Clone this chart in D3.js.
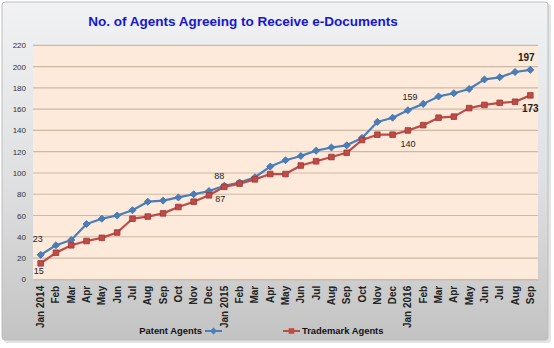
<!DOCTYPE html>
<html>
<head>
<meta charset="utf-8">
<script src="https://cdn.jsdelivr.net/npm/d3@7/dist/d3.min.js"></script>
<style>
  html, body { margin: 0; padding: 0; background: #ffffff; }
  svg { display: block; font-family: "Liberation Sans", Arial, sans-serif; }
</style>
</head>
<body>
<svg id="chart" width="554" height="348"></svg>
<script>
// Monthly categories, Jan 2014 – Sep 2016
const months = ["Jan 2014","Feb","Mar","Apr","May","Jun","Jul","Aug","Sep","Oct","Nov","Dec",
                "Jan 2015","Feb","Mar","Apr","May","Jun","Jul","Aug","Sep","Oct","Nov","Dec",
                "Jan 2016","Feb","Mar","Apr","May","Jun","Jul","Aug","Sep"];
const patentAgents = [23,32,37,52,57,60,65,73,74,77,80,83,
                      88,91,96,106,112,116,121,124,126,133,148,152,
                      159,165,172,175,179,188,190,195,197];
const trademarkAgents = [15,25,32,36,39,44,57,59,62,68,73,79,
                         87,90,94,99,99,107,111,115,119,131,136,136,
                         140,145,152,153,161,164,166,167,173];
const yTicks = [0,20,40,60,80,100,120,140,160,180,200,220];
const seriesNames = ["Patent Agents","Trademark Agents"];
// Points that carry a value label: [series index, month index]
const labelledPoints = [[0,0],[1,0],[0,12],[1,12],[0,24],[1,24],[0,32],[1,32]];

const svg = d3.select("#chart");
const keys = months.map((m, i) => i);   // unique band keys for repeated month names

const x = d3.scaleBand().domain(keys).range([33, 538]).padding(0);
const y = d3.scaleLinear().domain([0, 220]).range([279.3, 45.4]);
const cx = i => x(i) + x.bandwidth() / 2;

// Chart area background
const defs = svg.append("defs");
const bg = defs.append("linearGradient").attr("id", "bg").attr("x1", 0).attr("y1", 0).attr("x2", 0).attr("y2", 1);
bg.append("stop").attr("offset", "0%").attr("stop-color", "#f0f2f4");
bg.append("stop").attr("offset", "55%").attr("stop-color", "#dedfe0");
bg.append("stop").attr("offset", "100%").attr("stop-color", "#c3c3c3");

svg.append("rect").attr("x", 4).attr("y", 4).attr("width", 547).attr("height", 339)
  .attr("rx", 3).attr("fill", "#e4e4e4");
svg.append("rect").attr("x", 2).attr("y", 2).attr("width", 546).attr("height", 338)
  .attr("rx", 3).attr("fill", "url(#bg)").attr("stroke", "#bdbdbd").attr("stroke-width", 1);

// Plot area
svg.append("rect").attr("x", x.range()[0]).attr("y", y(220))
  .attr("width", x.range()[1] - x.range()[0]).attr("height", y(0) - y(220))
  .attr("fill", "#fdeadb");

// Gridlines
svg.append("g").selectAll("line").data(yTicks.slice(1)).join("line")
  .attr("x1", x.range()[0]).attr("x2", x.range()[1])
  .attr("y1", d => y(d)).attr("y2", d => y(d))
  .attr("stroke", "#cbb8a5").attr("stroke-width", 1.2);

// Y axis labels
svg.append("g").selectAll("text").data(yTicks).join("text")
  .attr("x", 26).attr("y", d => y(d) + 3)
  .attr("text-anchor", "end").attr("font-size", 8).attr("fill", "#333")
  .text(d => d);

// X axis
const xAxis = d3.axisBottom(x).tickSize(0).tickFormat(i => months[i]);
const gx = svg.append("g").attr("transform", `translate(0,${y(0)})`).call(xAxis);
gx.select(".domain").attr("stroke", "#bfb2a6");
gx.selectAll("text")
  .attr("transform", "rotate(-90)")
  .attr("text-anchor", "end")
  .attr("x", -6.5).attr("y", 0).attr("dy", "0.35em")
  .attr("font-size", 10).attr("font-weight", "bold").attr("fill", "#222")
  .attr("font-family", "\"Liberation Sans\", Arial, sans-serif");

// Series
const colors = ["#4a7ebb", "#be4b48"];
const strokes = ["#3c6ea8", "#9e3734"];
const data = [patentAgents, trademarkAgents];
const line = d3.line().x((d, i) => cx(i)).y(d => y(d));
const diamond = d3.symbol().type(d3.symbolDiamond2).size(32);
const square = d3.symbol().type(d3.symbolSquare2).size(40);

data.forEach((vals, s) => {
  svg.append("path").datum(vals).attr("d", line)
    .attr("fill", "none").attr("stroke", colors[s]).attr("stroke-width", 2.2)
    .attr("stroke-linejoin", "round");
  svg.append("g").selectAll("path").data(vals).join("path")
    .attr("transform", (d, i) => `translate(${cx(i)},${y(d)})`)
    .attr("d", s === 0 ? diamond : square)
    .attr("fill", colors[s]).attr("stroke", strokes[s]).attr("stroke-width", 0.8);
});

// Value labels, each nudged clear of its marker
const labelOffset = {
  "0-0": [-3, -13], "1-0": [-2, 11],
  "0-12": [-5, -6.5], "1-12": [-4, 15.5],
  "0-24": [2, -10], "1-24": [0, 17],
  "0-32": [-4, -8.5], "1-32": [0, 17]
};
svg.append("g").selectAll("text").data(labelledPoints).join("text")
  .attr("x", ([s, i]) => cx(i) + labelOffset[s + "-" + i][0])
  .attr("y", ([s, i]) => y(data[s][i]) + labelOffset[s + "-" + i][1])
  .attr("text-anchor", "middle")
  .attr("font-size", ([s, i]) => i === 32 ? 10 : 9)
  .attr("font-weight", ([s, i]) => i === 32 ? "bold" : "normal")
  .attr("fill", "#222")
  .text(([s, i]) => data[s][i]);

// Title
svg.append("text").attr("x", 243).attr("y", 26).attr("text-anchor", "middle")
  .attr("font-size", 13.5).attr("font-weight", "bold").attr("fill", "#1616d4")
  .text("No. of Agents Agreeing to Receive e-Documents");

// Legend
const lg = svg.append("g");
lg.append("text").attr("x", 202).attr("y", 334).attr("text-anchor", "end")
  .attr("font-size", 9.4).attr("font-weight", "bold").attr("fill", "#111").text(seriesNames[0]);
lg.append("line").attr("x1", 205).attr("x2", 222).attr("y1", 331).attr("y2", 331)
  .attr("stroke", colors[0]).attr("stroke-width", 2);
lg.append("path").attr("transform", "translate(213.5,331)").attr("d", diamond)
  .attr("fill", colors[0]);
lg.append("line").attr("x1", 283).attr("x2", 300).attr("y1", 331).attr("y2", 331)
  .attr("stroke", colors[1]).attr("stroke-width", 2);
lg.append("path").attr("transform", "translate(291.5,331)").attr("d", square)
  .attr("fill", colors[1]);
lg.append("text").attr("x", 302).attr("y", 334).attr("text-anchor", "start")
  .attr("font-size", 9.4).attr("font-weight", "bold").attr("fill", "#111").text(seriesNames[1]);
</script>
</body>
</html>
